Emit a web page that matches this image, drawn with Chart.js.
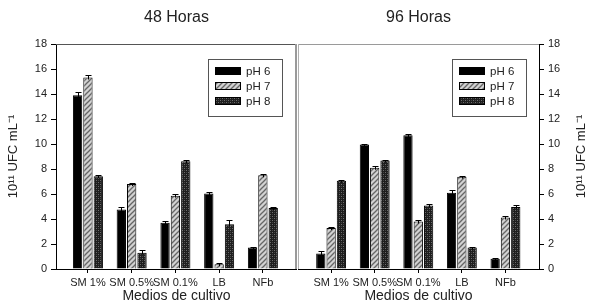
<!DOCTYPE html>
<html><head><meta charset="utf-8">
<script src="https://cdn.jsdelivr.net/npm/chart.js@4.4.0/dist/chart.umd.min.js"></script>
<style>
html,body{margin:0;padding:0;background:#fff;}
#wrap{position:relative;width:589px;height:307px;overflow:hidden;background:#fff;}
#c48{position:absolute;left:0;top:0;width:297px;height:307px;}
#c96{position:absolute;left:297px;top:0;width:292px;height:307px;}
</style></head><body>
<div id="wrap"><canvas id="c48" width="297" height="307"></canvas><canvas id="c96" width="292" height="307"></canvas></div>
<script>
const categories = ['SM 1%', 'SM 0.5%', 'SM 0.1%', 'LB', 'NFb'];
const seriesLabels = ['pH 6', 'pH 7', 'pH 8'];
const panelTitles = ['48 Horas', '96 Horas'];
const yAxisTitle = '10¹¹ UFC mL⁻¹';
const xAxisTitle = 'Medios de cultivo';
const yMin = 0, yMax = 18, yStep = 2;

// 48 horas
const h48_pH6 = [13.9, 4.77, 3.71, 6.05, 1.72];
const h48_pH7 = [15.32, 6.8, 5.87, 0.38, 7.5];
const h48_pH8 = [7.42, 1.31, 8.63, 3.58, 4.88];
const h48_err6 = [0.22, 0.2, 0.12, 0.12, 0.05];
const h48_err7 = [0.18, 0.1, 0.1, 0.1, 0.1];
const h48_err8 = [0.08, 0.2, 0.05, 0.33, 0.12];

// 96 horas
const h96_pH6 = [1.25, 9.97, 10.7, 6.1, 0.82];
const h96_pH7 = [3.28, 8.1, 3.8, 7.39, 4.12];
const h96_pH8 = [7.06, 8.68, 5.09, 1.72, 4.97];
const h96_err6 = [0.18, 0.05, 0.08, 0.22, 0.05];
const h96_err7 = [0.05, 0.15, 0.13, 0.08, 0.15];
const h96_err8 = [0.07, 0.07, 0.1, 0.06, 0.15];

const FONT = '"Liberation Sans", Arial, Helvetica, sans-serif';
Chart.defaults.font.family = FONT;

function makeHatch(ctx) {
  const c = document.createElement('canvas'); c.width = 5; c.height = 5;
  const g = c.getContext('2d');
  g.fillStyle = '#d2d2d2'; g.fillRect(0, 0, 5, 5);
  g.strokeStyle = '#666666'; g.lineWidth = 1.3;
  g.beginPath(); g.moveTo(-1, 6); g.lineTo(6, -1); g.stroke();
  g.beginPath(); g.moveTo(-1, 1); g.lineTo(1, -1); g.stroke();
  g.beginPath(); g.moveTo(4, 6); g.lineTo(6, 4); g.stroke();
  return ctx.createPattern(c, 'repeat');
}
function makeCross(ctx) {
  const c = document.createElement('canvas'); c.width = 4; c.height = 4;
  const g = c.getContext('2d');
  g.fillStyle = '#1e1e1e'; g.fillRect(0, 0, 4, 4);
  g.fillStyle = '#6e6e6e'; g.fillRect(0, 0, 1, 1); g.fillRect(2, 2, 1, 1);
  g.fillStyle = '#444444'; g.fillRect(2, 0, 1, 1); g.fillRect(0, 2, 1, 1);
  return ctx.createPattern(c, 'repeat');
}

const errorBars = {
  id: 'errorBars',
  afterDatasetsDraw(chart) {
    const ctx = chart.ctx, ys = chart.scales.y;
    ctx.save(); ctx.strokeStyle = '#000'; ctx.lineWidth = 1;
    chart.data.datasets.forEach((ds, di) => {
      const meta = chart.getDatasetMeta(di);
      meta.data.forEach((bar, i) => {
        const v = ds.data[i].y, e = ds.errors[i];
        const yt = Math.round(ys.getPixelForValue(v + e)) + 0.5;
        const x = Math.round(bar.x) + 0.5;
        ctx.beginPath();
        ctx.moveTo(x, bar.y + 2); ctx.lineTo(x, yt);
        ctx.moveTo(x - 3, yt); ctx.lineTo(x + 3, yt);
        ctx.stroke();
      });
    });
    ctx.restore();
  }
};

const panelDeco = {
  id: 'panelDeco',
  afterDraw(chart, args, o) {
    const ctx = chart.ctx, ca = chart.chartArea;
    ctx.save();
    ctx.fillStyle = '#222'; ctx.font = '16px ' + FONT;
    ctx.textAlign = 'center'; ctx.textBaseline = 'middle';
    ctx.fillText(o.title, (ca.left + ca.right) / 2, 18);
    ctx.strokeStyle = o.topColor; ctx.lineWidth = 1;
    ctx.beginPath(); ctx.moveTo(ca.left, Math.round(ca.top) + 0.5); ctx.lineTo(ca.right, Math.round(ca.top) + 0.5); ctx.stroke();
    ctx.strokeStyle = o.sideColor; ctx.lineWidth = o.sideWidth;
    const sx = o.side === 'right' ? ca.right - o.sideWidth / 2 : ca.left + o.sideWidth / 2;
    ctx.beginPath(); ctx.moveTo(sx, ca.top); ctx.lineTo(sx, ca.bottom); ctx.stroke();
    const bw = 74, bh = 57;
    const bx = Math.round(ca.right - o.legendInset - bw), by = Math.round(ca.top + 15);
    ctx.fillStyle = '#fff'; ctx.fillRect(bx, by, bw, bh);
    ctx.strokeStyle = '#555'; ctx.lineWidth = 1;
    ctx.strokeRect(bx + 0.5, by + 0.5, bw, bh);
    chart.data.datasets.forEach((ds, k) => {
      const cy = by + 12 + k * 15;
      ctx.fillStyle = ds.backgroundColor; ctx.fillRect(bx + 7, cy - 4, 26, 8);
      ctx.strokeStyle = '#000'; ctx.strokeRect(bx + 7.5, cy - 3.5, 25, 7);
      ctx.fillStyle = '#222'; ctx.font = '11.5px ' + FONT;
      ctx.textAlign = 'left'; ctx.textBaseline = 'middle';
      ctx.fillText(ds.label, bx + 38, cy + 0.5);
    });
    if (o.rightTitle) {
      ctx.translate(ca.right + 42, (ca.top + ca.bottom) / 2);
      ctx.rotate(-Math.PI / 2);
      ctx.fillStyle = '#222'; ctx.font = '13px ' + FONT;
      ctx.textAlign = 'center'; ctx.textBaseline = 'middle';
      ctx.fillText(yAxisTitle, 0, 0);
    }
    ctx.restore();
  }
};

function buildPanel(canvasId, title, series, errs, isLeft) {
  const canvas = document.getElementById(canvasId);
  const ctx = canvas.getContext('2d');
  const fills = ['#000000', makeHatch(ctx), makeCross(ctx)];
  return new Chart(canvas, {
    type: 'bar',
    data: {
      datasets: seriesLabels.map((lab, k) => ({
        label: lab,
        data: series[k].map((v, i) => ({ x: i, y: v })),
        errors: errs[k],
        backgroundColor: fills[k],
        borderColor: '#000', borderWidth: 1,
        categoryPercentage: 0.71, barPercentage: 0.9
      }))
    },
    options: {
      responsive: false, animation: false, devicePixelRatio: 1,
      layout: { padding: { top: 44, left: isLeft ? 0 : 1, right: 0, bottom: 0 } },
      plugins: {
        legend: { display: false }, tooltip: { enabled: false },
        panelDeco: {
          title: title,
          topColor: isLeft ? '#555' : '#9a9a9a',
          side: isLeft ? 'right' : 'left',
          sideColor: isLeft ? '#9a9a9a' : '#b0b0b0',
          sideWidth: isLeft ? 2 : 1,
          legendInset: isLeft ? 15 : 13,
          rightTitle: !isLeft
        }
      },
      scales: {
        x: {
          type: 'linear', bounds: 'data',
          min: isLeft ? -0.73 : -0.76, max: isLeft ? 4.78 : 4.77,
          offset: false,
          afterBuildTicks: a => { a.ticks = categories.map((c, i) => ({ value: i })); },
          afterFit: a => { a.height = 38; },
          ticks: { callback: v => categories[v], autoSkip: false, maxRotation: 0, minRotation: 0, padding: 3, color: '#222', font: { size: 11 } },
          grid: { display: true, offset: false, drawOnChartArea: false, drawTicks: true, tickLength: 4, color: '#000' },
          border: { display: true, color: '#000', width: 1 },
          title: { display: true, text: xAxisTitle, font: { size: 14 }, color: '#222', padding: { top: 0, bottom: 2 } }
        },
        y: {
          position: isLeft ? 'left' : 'right',
          min: yMin, max: yMax,
          ticks: { stepSize: yStep, padding: 4, color: '#222', font: { size: 11 } },
          afterFit: a => { a.width = isLeft ? 56 : 50; },
          grid: { drawOnChartArea: false, drawTicks: true, tickLength: 5, color: '#000' },
          border: { display: true, color: '#000', width: 1 },
          title: { display: isLeft, text: yAxisTitle, font: { size: 13 }, color: '#222', padding: { top: 6, bottom: 0 } }
        }
      }
    },
    plugins: [errorBars, panelDeco]
  });
}

buildPanel('c48', panelTitles[0], [h48_pH6, h48_pH7, h48_pH8], [h48_err6, h48_err7, h48_err8], true);
buildPanel('c96', panelTitles[1], [h96_pH6, h96_pH7, h96_pH8], [h96_err6, h96_err7, h96_err8], false);
</script>
</body></html>
